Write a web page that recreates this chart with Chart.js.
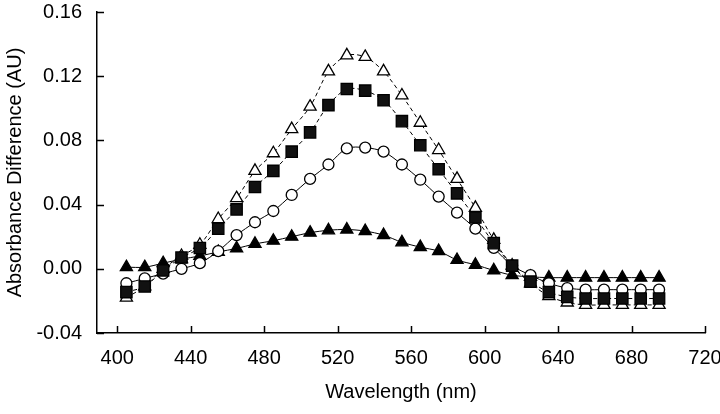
<!DOCTYPE html>
<html><head><meta charset="utf-8">
<script src="https://cdn.jsdelivr.net/npm/chart.js@4/dist/chart.umd.min.js"></script>
<style>html,body{margin:0;padding:0;background:#fff}#wrap{width:720px;height:414px}</style>
</head><body><div id="wrap"><canvas id="c" width="720" height="414"></canvas></div>
<script>
const wavelengths = [405,415,425,435,445,455,465,475,485,495,505,515,525,535,545,555,565,575,585,595,605,615,625,635,645,655,665,675,685,695];
const openTriangles = [-0.018,-0.011,0.000,0.008,0.015,0.031,0.044,0.061,0.072,0.087,0.101,0.123,0.133,0.132,0.123,0.108,0.091,0.074,0.056,0.038,0.018,0.002,-0.009,-0.017,-0.021,-0.0225,-0.0225,-0.0225,-0.0225,-0.0225];
const filledSquares = [-0.0145,-0.011,-0.001,0.007,0.013,0.025,0.037,0.051,0.061,0.073,0.085,0.102,0.112,0.111,0.105,0.092,0.077,0.062,0.047,0.032,0.016,0.002,-0.008,-0.0145,-0.0175,-0.0185,-0.0185,-0.0185,-0.0185,-0.0185];
const openCircles = [-0.009,-0.006,-0.003,0.000,0.0035,0.011,0.021,0.029,0.036,0.046,0.056,0.065,0.075,0.0755,0.073,0.065,0.0555,0.045,0.035,0.025,0.013,0.002,-0.004,-0.009,-0.012,-0.013,-0.013,-0.013,-0.013,-0.013];
const filledTriangles = [0.001,0.001,0.0035,0.006,0.008,0.0105,0.0127,0.0155,0.0175,0.020,0.0225,0.024,0.0245,0.0235,0.021,0.0165,0.0135,0.011,0.0055,0.0025,-0.001,-0.004,-0.005,-0.0055,-0.0055,-0.0055,-0.0055,-0.0055,-0.0055,-0.0055];
const xTicks = [400,440,480,520,560,600,640,680,720];
const yTicks = [-0.04,0.00,0.04,0.08,0.12,0.16];

const pts = arr => wavelengths.map((w,i)=>({x:w,y:arr[i]}));
const FONT = "'Liberation Sans', Arial, sans-serif";

const inwardTicks = {
  id:'inwardTicks',
  afterDatasetsDraw(chart){
    const c = chart.ctx, xs = chart.scales.x, ys = chart.scales.y, a = chart.chartArea;
    c.save(); c.strokeStyle='#000'; c.lineWidth=1.5;
    c.beginPath();
    xTicks.forEach(v=>{const px=Math.round(xs.getPixelForValue(v))+0.5; c.moveTo(px,a.bottom); c.lineTo(px,a.bottom-7);});
    yTicks.forEach(v=>{const py=Math.round(ys.getPixelForValue(v))+0.5; c.moveTo(a.left,py); c.lineTo(a.left+7,py);});
    c.stroke(); c.restore();
  }
};

const base = {showLine:true, borderColor:'#000', borderWidth:1, tension:0.3, pointBorderColor:'#000', pointBorderWidth:1.3};
new Chart(document.getElementById('c'),{
  type:'scatter',
  data:{datasets:[
    Object.assign({},base,{label:'squares',data:pts(filledSquares),pointStyle:'rect',pointRadius:8,pointBackgroundColor:'#111',borderDash:[4,3]}),
    Object.assign({},base,{label:'circles',data:pts(openCircles),pointStyle:'circle',pointRadius:5.5,pointBackgroundColor:'#fff'}),
    Object.assign({},base,{label:'filled triangles',data:pts(filledTriangles),pointStyle:'triangle',pointRadius:7,pointBackgroundColor:'#000'}),
    Object.assign({},base,{label:'open triangles',data:pts(openTriangles),pointStyle:'triangle',pointRadius:7,pointBackgroundColor:'#fff',borderDash:[4,3]})
  ]},
  options:{
    responsive:false, animation:false,
    layout:{padding:{top:12,right:15,left:0,bottom:0}},
    plugins:{legend:{display:false},tooltip:{enabled:false}},
    scales:{
      x:{type:'linear',min:389,max:720,
        afterBuildTicks:s=>{s.ticks=xTicks.map(v=>({value:v}));},
        afterFit:s=>{s.height=81;s.paddingLeft=0;s.paddingRight=0;},
        grid:{display:true,drawOnChartArea:false,drawTicks:false},
        border:{display:true,color:'#000',width:1.5},
        ticks:{color:'#000',padding:13,maxRotation:0,font:{family:FONT,size:20},callback:v=>String(v)},
        title:{display:true,text:'Wavelength (nm)',color:'#000',font:{family:FONT,size:20},padding:{top:0,bottom:10}}
      },
      y:{type:'linear',min:-0.04,max:0.16,
        afterBuildTicks:s=>{s.ticks=yTicks.map(v=>({value:v}));},
        afterFit:s=>{s.width=97;s.paddingTop=0;s.paddingBottom=0;},
        grid:{display:true,drawOnChartArea:false,drawTicks:false},
        border:{display:true,color:'#000',width:1.5},
        ticks:{color:'#000',padding:15,font:{family:FONT,size:20},callback:v=>Number(v).toFixed(2)},
        title:{display:true,text:'Absorbance Difference (AU)',color:'#000',font:{family:FONT,size:20},padding:{top:3,bottom:0}}
      }
    }
  },
  plugins:[inwardTicks]
});
</script></body></html>
